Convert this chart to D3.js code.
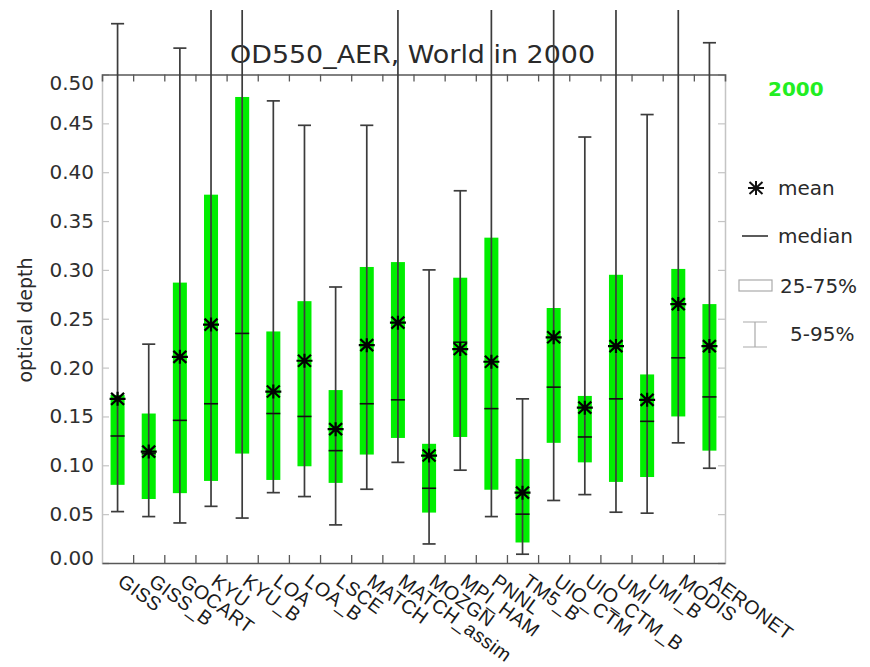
<!DOCTYPE html>
<html>
<head>
<meta charset="utf-8">
<script src="https://cdn.jsdelivr.net/npm/d3@7"></script>
<style>
  body { margin: 0; background: #fff; }
  svg { display: block; font-family: "DejaVu Sans", sans-serif; }
</style>
</head>
<body>
<div id="vis"></div>
<script>

const models = ["GISS", "GISS_B", "GOCART", "KYU", "KYU_B", "LOA", "LOA_B", "LSCE", "MATCH", "MATCH_assim",
    "MOZGN", "MPI_HAM", "PNNL", "TM5_B", "UIO_CTM", "UIO_CTM_B", "UMI", "UMI_B", "MODIS", "AERONET"]

// 5-95% whiskers and 25-75% boxes (0.6 = runs off the top)
const p95 = [0.552, 0.224, 0.527, 0.6, 0.6, 0.473, 0.448, 0.2825, 0.448, 0.6,
    0.300, 0.381, 0.6, 0.168, 0.6, 0.436, 0.6, 0.459, 0.6, 0.5325]
const q75 = [0.172, 0.153, 0.287, 0.377, 0.477, 0.237, 0.268, 0.177, 0.303, 0.308,
    0.122, 0.292, 0.333, 0.1065, 0.261, 0.171, 0.295, 0.193, 0.301, 0.265]
const means = [0.168, 0.114, 0.211, 0.244, null, 0.1755, 0.207, 0.137, 0.223, 0.246,
    0.110, 0.219, 0.206, 0.072, 0.231, 0.159, 0.222, 0.167, 0.265, 0.222]
const medians = [0.130, 0.112, 0.146, 0.163, 0.235, 0.153, 0.150, 0.115, 0.163, 0.167,
    0.0765, 0.226, 0.158, 0.050, 0.180, 0.129, 0.168, 0.145, 0.210, 0.170]
const q25 = [0.080, 0.0655, 0.0715, 0.084, 0.112, 0.085, 0.099, 0.082, 0.111, 0.128,
    0.0516, 0.129, 0.075, 0.021, 0.123, 0.103, 0.083, 0.088, 0.150, 0.115]
const p05 = [0.0526, 0.0475, 0.041, 0.058, 0.046, 0.072, 0.068, 0.039, 0.0755, 0.103,
    0.0195, 0.095, 0.0475, 0.009, 0.064, 0.070, 0.052, 0.051, 0.123, 0.097]

const yTicks = [0, 0.05, 0.10, 0.15, 0.20, 0.25, 0.30, 0.35, 0.40, 0.45, 0.50]
const legendLabels = ["mean", "median", "25-75%", "5-95%"]
const title = "OD550_AER, World in 2000"
const yearLabel = "2000"
const yLabel = "optical depth"

const W = 870, H = 667
const plot = {left: 102, right: 725, top: 74.5, bottom: 563}
const green = "#00ee00"
const whiskerCol = "#3c3c3c"
const lightAxis = "#c4c4c4"
const darkAxis = "#585858"

const data = models.map((m, i) => ({
    model: m, p95: p95[i], q75: q75[i], mean: means[i], median: medians[i], q25: q25[i], p05: p05[i]
}))

const svg = d3.select("#vis").append("svg")
    .attr("width", W)
    .attr("height", H)

svg.append("defs").append("clipPath")
    .attr("id", "clip")
    .append("rect")
    .attr("x", 0).attr("y", 10)
    .attr("width", W).attr("height", H - 10)

const x = d3.scaleBand()
    .domain(models)
    .range([plot.left, plot.right])
    .padding(0)

const xEdges = d3.scaleLinear()
    .domain([0, models.length])
    .range([plot.left, plot.right])

const y = d3.scaleLinear()
    .domain([0, 0.5])
    .range([plot.bottom, plot.top])

const cx = d => x(d.model) + x.bandwidth() / 2
const boxW = x.bandwidth() * 0.45
const capW = x.bandwidth() * 0.42

// title sits under the whiskers
svg.append("text")
    .attr("x", 230)
    .attr("y", 63)
    .attr("textLength", 365)
    .attr("lengthAdjust", "spacingAndGlyphs")
    .style("font-size", "24px")
    .style("fill", "#2a2a2a")
    .text(title)

svg.append("text")
    .attr("x", 768)
    .attr("y", 96)
    .style("font-size", "20px")
    .style("font-weight", "bold")
    .style("fill", "#22ee22")
    .text(yearLabel)

// left / right axes (light grey)
const yAxisL = svg.append("g")
    .attr("transform", `translate(${plot.left},0)`)
    .call(d3.axisLeft(y).tickValues(yTicks).tickSize(-7).tickPadding(8).tickFormat(d3.format(".2f")))
yAxisL.select(".domain").attr("stroke", lightAxis).attr("stroke-width", 1.5)
yAxisL.selectAll(".tick line").attr("stroke", lightAxis).attr("stroke-width", 1.2)
yAxisL.selectAll(".tick text")
    .style("font-family", "'DejaVu Sans', sans-serif")
    .style("font-size", "20px")
    .style("fill", "#2f2f2f")
    .attr("transform", d => d === 0.5 ? "translate(0,9)" : d === 0 ? "translate(0,-5)" : null)

const yAxisR = svg.append("g")
    .attr("transform", `translate(${plot.right},0)`)
    .call(d3.axisRight(y).tickValues(yTicks).tickSize(-7).tickFormat(""))
yAxisR.select(".domain").attr("stroke", lightAxis).attr("stroke-width", 1.5)
yAxisR.selectAll(".tick line").attr("stroke", lightAxis).attr("stroke-width", 1.2)

// top / bottom axes (dark grey), ticks at category edges
const edgeTicks = d3.range(1, models.length)
const xAxisB = svg.append("g")
    .attr("transform", `translate(0,${plot.bottom})`)
    .call(d3.axisBottom(xEdges).tickValues(edgeTicks).tickSize(-8).tickSizeOuter(0).tickFormat(""))
const xAxisT = svg.append("g")
    .attr("transform", `translate(0,${y(0.5)})`)
    .call(d3.axisTop(xEdges).tickValues(edgeTicks).tickSize(-7).tickSizeOuter(-7).tickFormat(""))
for (const ax of [xAxisB, xAxisT]) {
    ax.select(".domain").attr("stroke", darkAxis).attr("stroke-width", 1.6)
    ax.selectAll(".tick line").attr("stroke", darkAxis).attr("stroke-width", 1.3)
}

// category labels, slanted
svg.append("g").selectAll("text")
    .data(data)
    .enter()
    .append("text")
    .attr("transform", d => `translate(${cx(d) - 1},584) rotate(36)`)
    .style("font-family", "'Liberation Sans', Arial, sans-serif")
    .style("font-size", "19.5px")
    .style("letter-spacing", "0.4px")
    .style("fill", "#1a1a1a")
    .text(d => d.model)

svg.append("text")
    .attr("transform", "translate(32,320) rotate(-90)")
    .attr("text-anchor", "middle")
    .style("font-size", "19px")
    .style("fill", "#2a2a2a")
    .text(yLabel)

// boxes
const marks = svg.append("g").attr("clip-path", "url(#clip)")

marks.selectAll(".box")
    .data(data)
    .enter()
    .append("rect")
    .attr("class", "box")
    .attr("x", d => cx(d) - boxW / 2)
    .attr("y", d => y(d.q75))
    .attr("width", boxW)
    .attr("height", d => y(d.q25) - y(d.q75))
    .attr("fill", green)

// whiskers
marks.selectAll(".whisker")
    .data(data)
    .enter()
    .append("line")
    .attr("class", "whisker")
    .attr("x1", cx).attr("x2", cx)
    .attr("y1", d => y(d.p95))
    .attr("y2", d => y(d.p05))
    .attr("stroke", whiskerCol)
    .attr("stroke-width", 1.7)

for (const key of ["p95", "p05"]) {
    marks.selectAll(".cap-" + key)
        .data(data)
        .enter()
        .append("line")
        .attr("class", "cap-" + key)
        .attr("x1", d => cx(d) - capW / 2)
        .attr("x2", d => cx(d) + capW / 2)
        .attr("y1", d => y(d[key]))
        .attr("y2", d => y(d[key]))
        .attr("stroke", whiskerCol)
        .attr("stroke-width", 1.7)
}

// medians
marks.selectAll(".median")
    .data(data)
    .enter()
    .append("line")
    .attr("class", "median")
    .attr("x1", d => cx(d) - boxW / 2)
    .attr("x2", d => cx(d) + boxW / 2)
    .attr("y1", d => y(d.median))
    .attr("y2", d => y(d.median))
    .attr("stroke", "#111")
    .attr("stroke-width", 1.6)

// asterisk for the mean
const star = "M-8,0H8M0,-7V7M-6.5,-6L6.5,6M-6.5,6L6.5,-6"
marks.selectAll(".mean")
    .data(data.filter(d => d.mean !== null))
    .enter()
    .append("path")
    .attr("class", "mean")
    .attr("transform", d => `translate(${cx(d)},${y(d.mean)})`)
    .attr("d", star)
    .attr("stroke", "#000")
    .attr("stroke-width", 2.2)
    .attr("fill", "none")

// legend
const leg = svg.append("g")
const legTextX = [778, 778, 780, 790]
const legY = [188, 236, 286, 334]

leg.append("path")
    .attr("transform", `translate(756,${legY[0]})`)
    .attr("d", star)
    .attr("stroke", "#111")
    .attr("stroke-width", 2)
    .attr("fill", "none")

leg.append("line")
    .attr("x1", 742).attr("x2", 768)
    .attr("y1", legY[1]).attr("y2", legY[1])
    .attr("stroke", "#333")
    .attr("stroke-width", 1.6)

leg.append("rect")
    .attr("x", 739).attr("y", legY[2] - 6)
    .attr("width", 33).attr("height", 11)
    .attr("fill", "none")
    .attr("stroke", "#aaa")
    .attr("stroke-width", 1.2)

leg.append("path")
    .attr("d", `M743,${legY[3] - 12}H767M755,${legY[3] - 12}V${legY[3] + 13}M743,${legY[3] + 13}H767`)
    .attr("stroke", "#aaa")
    .attr("stroke-width", 1.2)
    .attr("fill", "none")

leg.selectAll("text")
    .data(legendLabels)
    .enter()
    .append("text")
    .attr("x", (d, i) => legTextX[i])
    .attr("y", (d, i) => legY[i])
    .attr("dy", "0.35em")
    .style("font-size", "20px")
    .style("fill", "#2a2a2a")
    .text(d => d)

</script>
</body>
</html>
